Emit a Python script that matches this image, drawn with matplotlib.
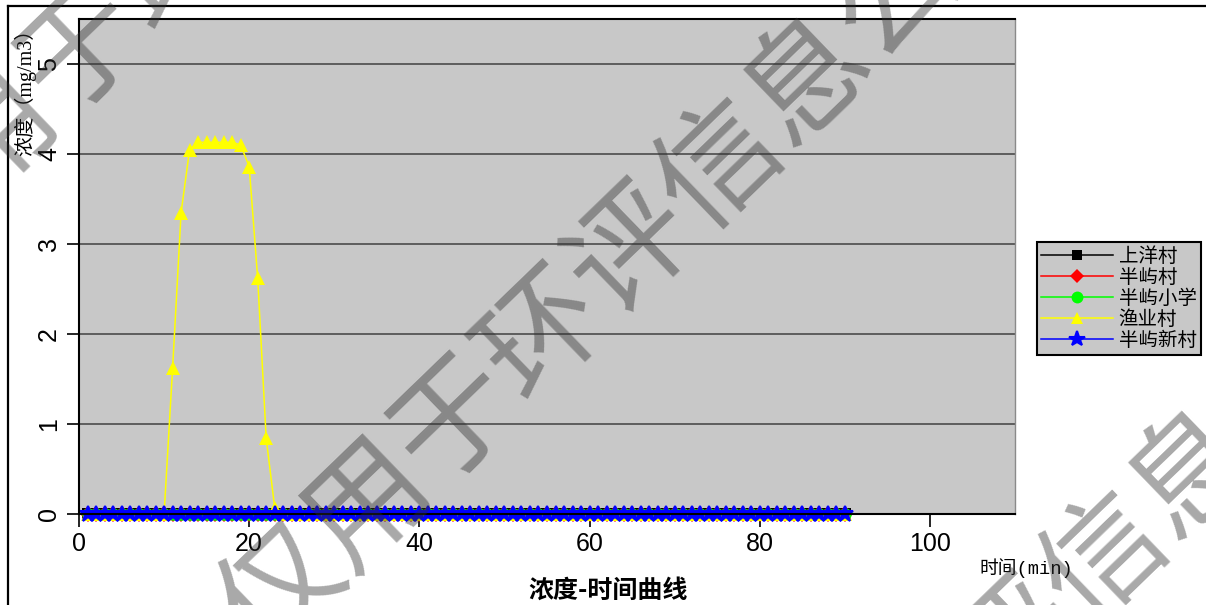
import matplotlib
matplotlib.use('Agg')
import matplotlib.pyplot as plt
from matplotlib.lines import Line2D

# ---------------- data ----------------
time_min = list(range(1, 91))
x_ticks = [0, 20, 40, 60, 80, 100]
y_ticks = [0, 1, 2, 3, 4, 5]
series_names = ['上洋村', '半屿村', '半屿小学', '渔业村', '半屿新村']

shangyang = [0, 0, 0, 0, 0, 0, 0, 0, 0, 0,
             0, 0, 0, 0, 0, 0, 0, 0, 0, 0,
             0, 0, 0, 0, 0, 0, 0, 0, 0, 0,
             0, 0, 0, 0, 0, 0, 0, 0, 0, 0,
             0, 0, 0, 0, 0, 0, 0, 0, 0, 0,
             0, 0, 0, 0, 0, 0, 0, 0, 0, 0,
             0, 0, 0, 0, 0, 0, 0, 0, 0, 0,
             0, 0, 0, 0, 0, 0, 0, 0, 0, 0,
             0, 0, 0, 0, 0, 0, 0, 0, 0, 0]
banyu = [0, 0, 0, 0, 0, 0, 0, 0, 0, 0,
         0, 0, 0, 0, 0, 0, 0, 0, 0, 0,
         0, 0, 0, 0, 0, 0, 0, 0, 0, 0,
         0, 0, 0, 0, 0, 0, 0, 0, 0, 0,
         0, 0, 0, 0, 0, 0, 0, 0, 0, 0,
         0, 0, 0, 0, 0, 0, 0, 0, 0, 0,
         0, 0, 0, 0, 0, 0, 0, 0, 0, 0,
         0, 0, 0, 0, 0, 0, 0, 0, 0, 0,
         0, 0, 0, 0, 0, 0, 0, 0, 0, 0]
banyu_school = [0, 0, 0, 0, 0, 0, 0, 0, 0, 0,
                0, 0, 0, 0, 0, 0, 0, 0, 0, 0,
                0, 0, 0, 0, 0, 0, 0, 0, 0, 0,
                0, 0, 0, 0, 0, 0, 0, 0, 0, 0,
                0, 0, 0, 0, 0, 0, 0, 0, 0, 0,
                0, 0, 0, 0, 0, 0, 0, 0, 0, 0,
                0, 0, 0, 0, 0, 0, 0, 0, 0, 0,
                0, 0, 0, 0, 0, 0, 0, 0, 0, 0,
                0, 0, 0, 0, 0, 0, 0, 0, 0, 0]
yuye = [0, 0, 0, 0, 0, 0, 0, 0, 0, 0,
        1.62, 3.35, 4.05, 4.13, 4.13, 4.13, 4.13, 4.13, 4.10, 3.86,
        2.62, 0.84, 0.07, 0, 0, 0, 0, 0, 0, 0,
        0, 0, 0, 0, 0, 0, 0, 0, 0, 0,
        0, 0, 0, 0, 0, 0, 0, 0, 0, 0,
        0, 0, 0, 0, 0, 0, 0, 0, 0, 0,
        0, 0, 0, 0, 0, 0, 0, 0, 0, 0,
        0, 0, 0, 0, 0, 0, 0, 0, 0, 0,
        0, 0, 0, 0, 0, 0, 0, 0, 0, 0]
banyu_new = [0, 0, 0, 0, 0, 0, 0, 0, 0, 0,
             0, 0, 0, 0, 0, 0, 0, 0, 0, 0,
             0, 0, 0, 0, 0, 0, 0, 0, 0, 0,
             0, 0, 0, 0, 0, 0, 0, 0, 0, 0,
             0, 0, 0, 0, 0, 0, 0, 0, 0, 0,
             0, 0, 0, 0, 0, 0, 0, 0, 0, 0,
             0, 0, 0, 0, 0, 0, 0, 0, 0, 0,
             0, 0, 0, 0, 0, 0, 0, 0, 0, 0,
             0, 0, 0, 0, 0, 0, 0, 0, 0, 0]

series_values = [shangyang, banyu, banyu_school, yuye, banyu_new]
colors = ['black', 'red', '#00ff00', 'yellow', 'blue']
markers = ['s', 'D', 'o', '^', '*']
msizes = [8, 8, 9, 9.5, 12]
medges = [0, 0, 0, 0, 1.5]

# ---------------- figure ----------------
W, H = 1206, 605
fig = plt.figure(figsize=(W / 100, H / 100), dpi=100)
fig.patch.set_facecolor('white')

CJK = ['Noto Sans CJK SC', 'DejaVu Sans']
NUM = ['Liberation Sans Narrow', 'Liberation Sans', 'DejaVu Sans']

ax = fig.add_axes([79 / W, 1 - 514 / H, (1015 - 79) / W, (514 - 19) / H])
ax.set_facecolor('#c8c8c8')

for vals, c, m, ms, me in zip(series_values, colors, markers, msizes, medges):
    ax.plot(time_min, vals, color=c, marker=m, markersize=ms, lw=1.1,
            markeredgewidth=me, markeredgecolor=c, clip_on=False)

ax.set_xlim(0, 110)
ax.set_ylim(0, 5.5)
ax.set_xticks(x_ticks)
ax.set_yticks(y_ticks)
ax.yaxis.grid(True, color='#555555', lw=1.3)
ax.set_axisbelow(True)

ax.tick_params(axis='both', direction='out', length=9, width=1.2, color='black')
ax.tick_params(axis='x', pad=4)
ax.tick_params(axis='y', pad=4)
for lab in ax.get_xticklabels():
    lab.set_fontfamily(NUM)
    lab.set_fontsize(18)
for lab in ax.get_yticklabels():
    lab.set_fontfamily(NUM)
    lab.set_fontsize(18)
    lab.set_rotation(90)
    lab.set_va('center')
    lab.set_ha('right')

for s in ['left', 'bottom', 'top']:
    ax.spines[s].set_color('black')
    ax.spines[s].set_linewidth(1.5)
ax.spines['right'].set_color('#8a8a8a')
ax.spines['right'].set_linewidth(1.0)

# legend
handles = [Line2D([0], [0], color=c, marker=m, markersize=ms * 0.95, lw=1.1,
                  markeredgewidth=me, markeredgecolor=c)
           for c, m, ms, me in zip(colors, markers, msizes, medges)]
leg = fig.legend(handles, series_names, loc='upper left',
                 bbox_to_anchor=(1037 / W, 1 - 242 / H), borderaxespad=0,
                 prop={'family': CJK, 'size': 14}, handlelength=3.7,
                 handletextpad=0.3, labelspacing=0.0, borderpad=0.2,
                 fancybox=False, framealpha=1)
leg.get_frame().set_facecolor('#c8c8c8')
leg.get_frame().set_edgecolor('black')
leg.get_frame().set_linewidth(1.5)

# labels
fig.text(25 / W, 1 - 19 / H, '浓度（mg/m3）', rotation=90, va='top', ha='center',
         fontsize=14.5, family=['Liberation Serif', 'Noto Sans CJK SC'])
fig.text(1026 / W, 1 - 568 / H, '时间(min)', va='center', ha='center',
         fontsize=13.5, family=['Liberation Mono', 'Noto Sans CJK SC'])
fig.text(608 / W, 1 - 591 / H, '浓度-时间曲线', va='center', ha='center',
         fontsize=18, fontweight='bold', family=CJK)

# outer frame
fig.add_artist(Line2D([8 / W, 1], [1 - 6 / H, 1 - 6 / H], color='black', lw=1.6,
                      transform=fig.transFigure))
fig.add_artist(Line2D([8 / W, 8 / W], [0, 1 - 6 / H], color='black', lw=1.6,
                      transform=fig.transFigure))

# watermark
wm = '仅用于环评信息公开'
for cx, cy in [(635, 252), (1020, 645), (262, -118)]:
    fig.text(cx / W, 1 - cy / H, wm, rotation=44, rotation_mode='anchor',
             ha='center', va='center', fontsize=88, color='#303030', alpha=0.42,
             family=CJK, zorder=50)

fig.savefig('out.png', dpi=100)
